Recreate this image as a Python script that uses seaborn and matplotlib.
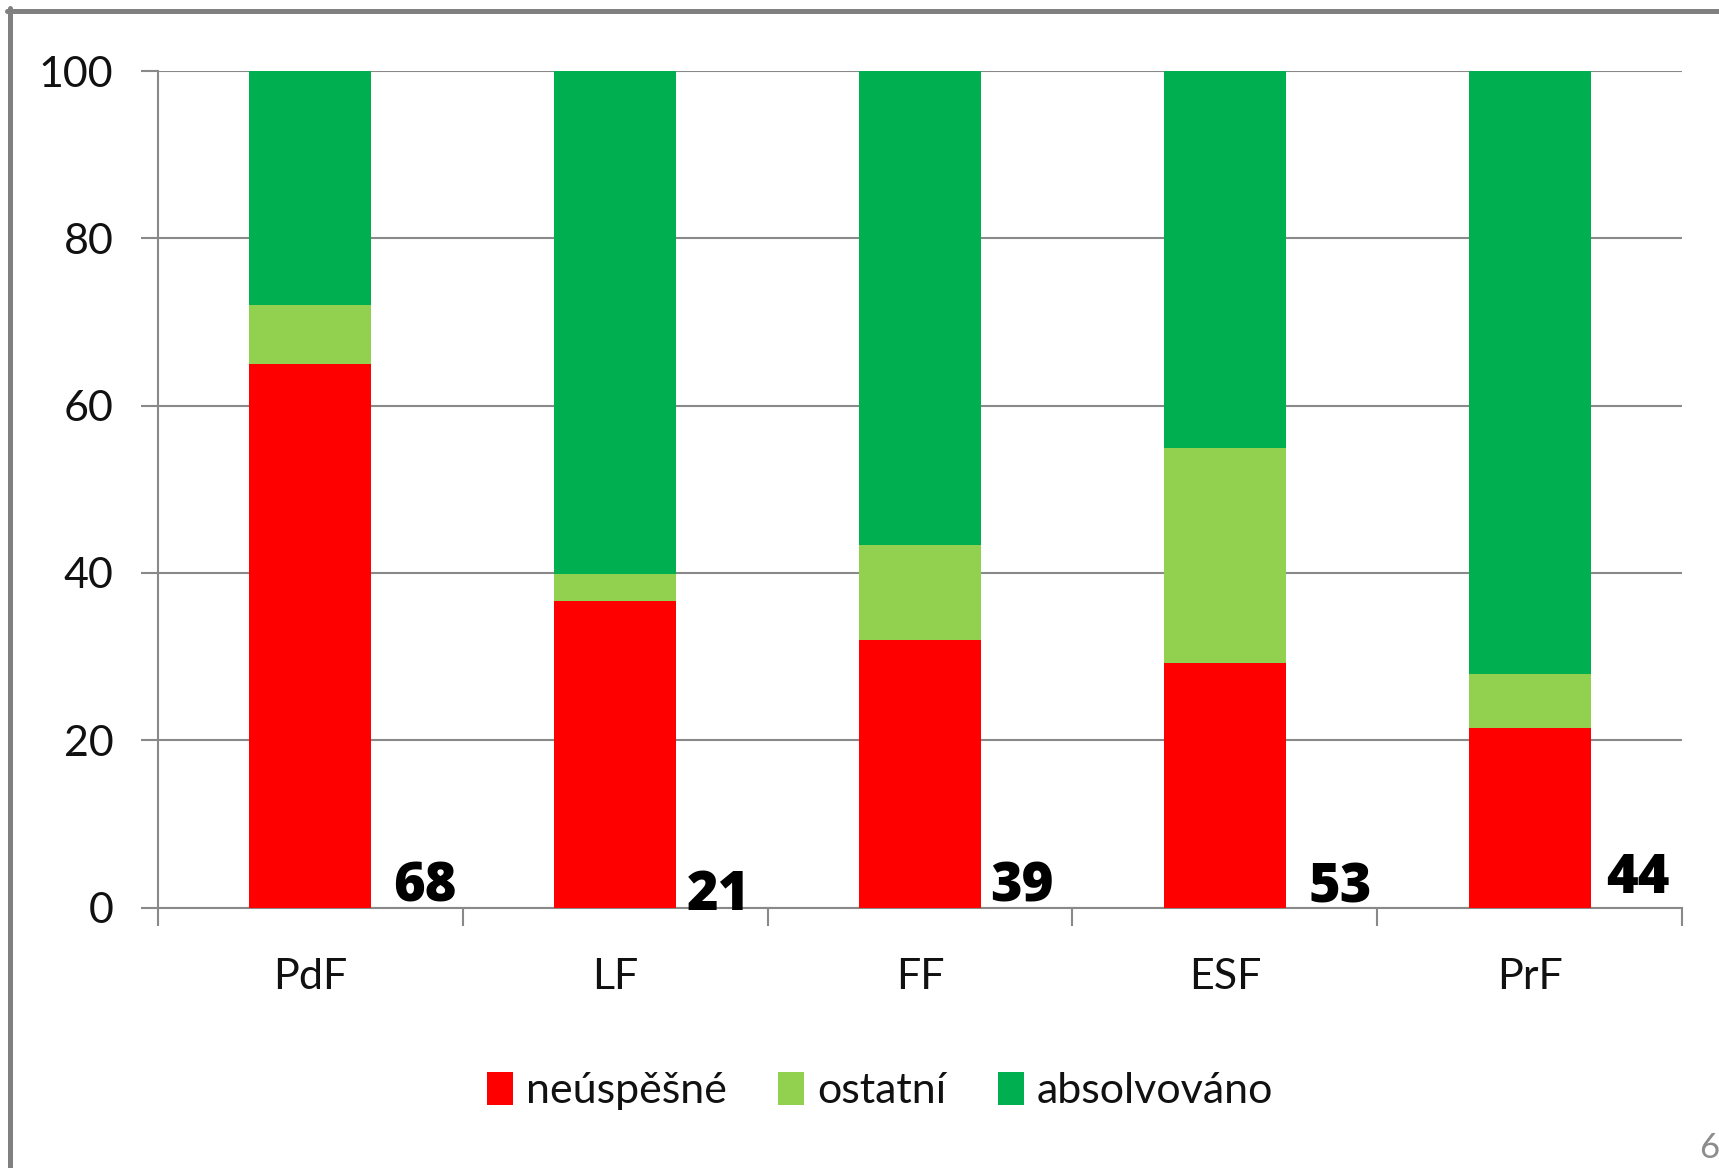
import numpy as np
import pandas as pd
import matplotlib.pyplot as plt
import seaborn as sns
from matplotlib.patches import Patch
from matplotlib.lines import Line2D

# data (percent of students per faculty)
categories = ["PdF", "LF", "FF", "ESF", "PrF"]
neuspesne = [65.0, 36.6, 32.0, 29.2, 21.5]
ostatni = [7.0, 3.3, 11.4, 25.8, 6.4]
absolvovano = [28.0, 60.1, 56.6, 45.0, 72.1]
counts = [68, 21, 39, 53, 44]
series_names = ["neúspěšné", "ostatní", "absolvováno"]
colors = ["#FF0000", "#92D050", "#00B050"]

# label placement (offset from category centre, data units)
label_dx = [0.27, 0.235, 0.23, 0.275, 0.25]
label_dy = [0.7, -0.3, 0.7, 0.6, 1.7]

sns.set_style("white")
plt.rcParams['font.family'] = ['Lato', 'DejaVu Sans']
plt.rcParams['text.color'] = 'black'

fig = plt.figure(figsize=(17.19, 11.68), dpi=100)
ax = fig.add_axes([0.0919, 0.2229, 0.8866, 0.7163])

gray = "#898989"
bottom = np.zeros(len(categories))
for name, vals, col in zip(series_names, [neuspesne, ostatni, absolvovano], colors):
    df = pd.DataFrame({"fakulta": categories, "hodnota": vals})
    sns.barplot(data=df, x="fakulta", y="hodnota", order=categories, color=col,
                saturation=1, width=0.4, bottom=bottom, errorbar=None, ax=ax,
                zorder=3, edgecolor="none", linewidth=0)
    bottom = bottom + np.array(vals)

for i, n in enumerate(counts):
    ax.text(i + label_dx[i], label_dy[i], str(n), fontsize=39, fontweight="heavy",
            family="Open Sans", color="black", ha="left", va="baseline", zorder=5)

ax.set_xlim(-0.5, len(categories) - 0.5)
ax.set_ylim(0, 100)
ax.set_yticks(np.arange(0, 101, 20))
ax.set_xlabel("")
ax.set_ylabel("")
ax.yaxis.grid(True, color=gray, linewidth=1.5, zorder=0)
ax.set_axisbelow(True)
for s in ["top", "right"]:
    ax.spines[s].set_visible(False)
for s in ["left", "bottom"]:
    ax.spines[s].set_color(gray)
    ax.spines[s].set_linewidth(1.5)

ax.tick_params(axis="y", which="major", length=12, width=1.5, color=gray,
               pad=20, labelsize=31, left=True, labelcolor="#111111")
ax.tick_params(axis="x", which="major", length=0, pad=36, labelsize=31,
               labelcolor="#111111")
ax.set_xticks(np.arange(-0.5, len(categories)), minor=True)
ax.tick_params(axis="x", which="minor", length=13, width=1.5, color=gray, bottom=True)

handles = [Patch(facecolor=c, edgecolor="none") for c in colors]
fig.legend(handles, series_names, loc="center", bbox_to_anchor=(0.512, 0.066),
           ncol=3, frameon=False, fontsize=31, handlelength=0.6, handleheight=0.8,
           handletextpad=0.3, columnspacing=1.2, labelcolor="#111111")

# slide frame and page number
fig.add_artist(Line2D([7 / 1719, 1], [1 - 10.5 / 1168] * 2, color="#808080", linewidth=3.6))
fig.add_artist(Line2D([9.5 / 1719] * 2, [0, 1 - 8 / 1168], color="#808080", linewidth=3.6))
fig.text(1699 / 1719, 10 / 1168, "6", fontsize=25, color="#8c8c8c", ha="left", va="baseline")

fig.savefig("out.png", dpi=100)
